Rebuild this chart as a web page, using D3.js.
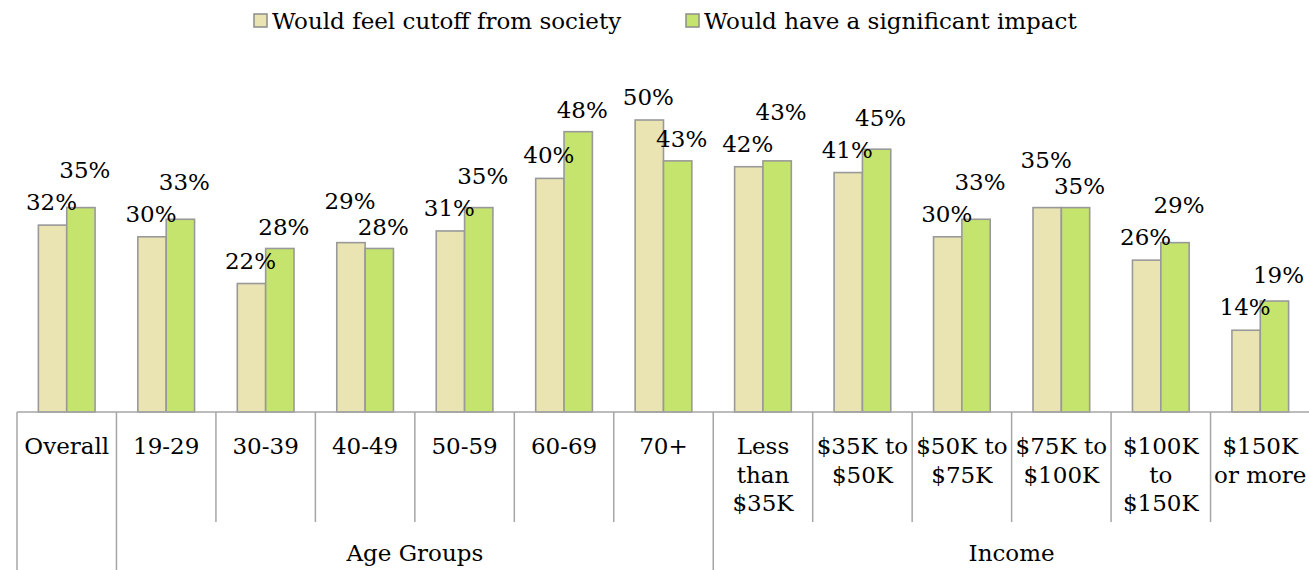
<!DOCTYPE html>
<html>
<head>
<meta charset="utf-8">
<script src="https://cdn.jsdelivr.net/npm/d3@7"></script>
<style>
  html, body { margin: 0; padding: 0; background: #fff; }
  svg { display: block; }
  text { font-family: "DejaVu Serif", serif; fill: #000; }
</style>
</head>
<body>
<svg id="chart" width="1309" height="570"></svg>
<script>
// ---- data ----
const categories = ["Overall", "19-29", "30-39", "40-49", "50-59", "60-69", "70+",
  "Less\nthan\n$35K", "$35K to\n$50K", "$50K to\n$75K", "$75K to\n$100K", "$100K\nto\n$150K", "$150K\nor more"];
const seriesNames = ["Would feel cutoff from society", "Would have a significant impact"];
const cutoffValues = [32, 30, 22, 29, 31, 40, 50, 42, 41, 30, 35, 26, 14];
const impactValues = [35, 33, 28, 28, 35, 48, 43, 43, 45, 33, 35, 29, 19];
const groupNames = ["Age Groups", "Income"];
const groupStarts = [1, 7];
const groupEnds = [6, 12];

// ---- layout ----
const W = 1309, H = 570;
const left = 17, right = 1310, baseY = 412, topY = 120;
const colors = ["#EAE4B2", "#C5E46E"];
const stroke = "#999999";
const fontSize = 23;

const svg = d3.select("#chart");

const x = d3.scaleBand().domain(d3.range(categories.length)).range([left, right])
  .paddingInner(0.43).paddingOuter(0.215);
const x1 = d3.scaleBand().domain([0, 1]).range([0, x.bandwidth()]).padding(0);
const y = d3.scaleLinear().domain([0, 50]).range([baseY, topY]);
const step = x.step();

const rows = categories.map((c, i) => ({ i, vals: [cutoffValues[i], impactValues[i]] }));

// bars
const g = svg.append("g");
const grp = g.selectAll("g.cat").data(rows).join("g").attr("class", "cat")
  .attr("transform", d => `translate(${x(d.i)},0)`);
grp.selectAll("rect").data(d => d.vals.map((v, s) => ({ v, s })))
  .join("rect")
  .attr("x", d => x1(d.s))
  .attr("width", x1.bandwidth())
  .attr("y", d => y(d.v))
  .attr("height", d => baseY - y(d.v))
  .attr("fill", d => colors[d.s])
  .attr("stroke", stroke)
  .attr("stroke-width", 1.6);

// data labels (with simple collision avoidance)
rows.forEach(r => {
  const bTop = y(r.vals[0]), gTop = y(r.vals[1]);
  let by = bTop - 23, gy = gTop - 22;
  if (Math.abs(by - gy) < 30) {
    if (gTop < bTop) gy = by - 32; else by = gy - 26;
  }
  const bx = x(r.i) + x1(0) + x1.bandwidth() / 2 - 1;
  const gx = x(r.i) + x1(1) + x1.bandwidth() / 2 + 4;
  [[bx, by, r.vals[0]], [gx, gy, r.vals[1]]].forEach(([lx, ly, v]) => {
    g.append("text").attr("x", lx).attr("y", ly).attr("dy", "0.35em")
      .attr("text-anchor", "middle").attr("font-size", fontSize)
      .text(v + "%");
  });
});

// x axis baseline
const axis = d3.axisBottom(x).tickSize(0).tickFormat("");
const ax = svg.append("g").attr("transform", `translate(0,${baseY})`).call(axis);
ax.select(".domain").attr("stroke", "#a6a6a6").attr("stroke-width", 1.5)
  .attr("d", `M${left},0H${W}`);

// separators
const bounds = d3.range(categories.length + 1);
const groupBoundary = new Set([0, 1]);
groupStarts.forEach(s => groupBoundary.add(s));
groupEnds.forEach(e => groupBoundary.add(e + 1));
svg.append("g").selectAll("line").data(bounds).join("line")
  .attr("x1", k => left + k * step).attr("x2", k => left + k * step)
  .attr("y1", baseY).attr("y2", k => groupBoundary.has(k) ? H : 522)
  .attr("stroke", "#a6a6a6").attr("stroke-width", 1.5);

// category labels
const lab = svg.append("g");
categories.forEach((c, i) => {
  const t = lab.append("text").attr("text-anchor", "middle").attr("font-size", fontSize)
    .attr("x", x(i) + x.bandwidth() / 2).attr("y", 454);
  c.split("\n").forEach((line, j) => {
    t.append("tspan").attr("x", x(i) + x.bandwidth() / 2).attr("dy", j === 0 ? 0 : 28.5).text(line);
  });
});

// group labels
groupNames.forEach((n, k) => {
  const cx = (left + groupStarts[k] * step + left + (groupEnds[k] + 1) * step) / 2;
  lab.append("text").attr("text-anchor", "middle").attr("font-size", fontSize)
    .attr("x", cx).attr("y", 561).text(n);
});

// legend
const leg = svg.append("g");
const legX = [254, 686];
seriesNames.forEach((n, s) => {
  leg.append("rect").attr("x", legX[s]).attr("y", 14).attr("width", 13).attr("height", 13)
    .attr("fill", colors[s]).attr("stroke", "#8c8c8c").attr("stroke-width", 1.5);
  leg.append("text").attr("x", legX[s] + 18).attr("y", 29).attr("font-size", fontSize).text(n);
});
</script>
</body>
</html>
